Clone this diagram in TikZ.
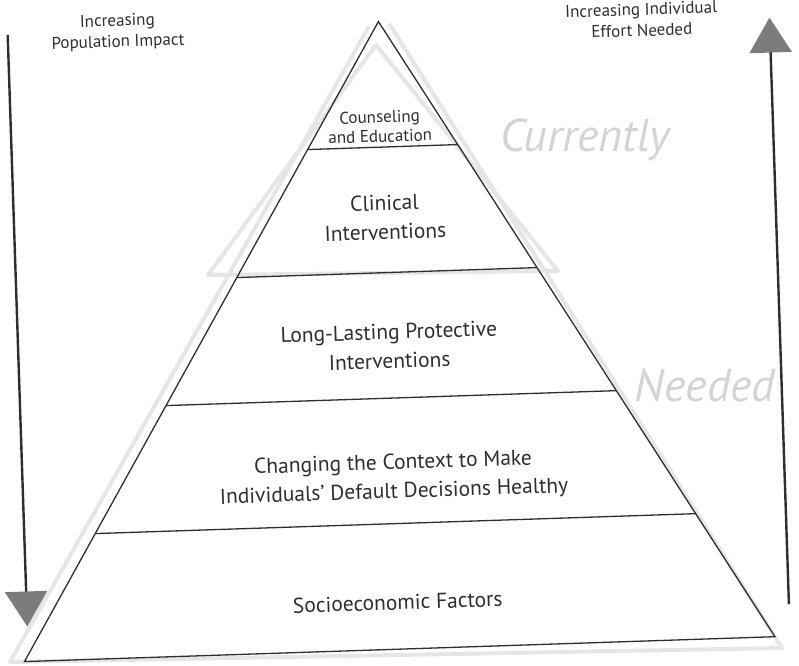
\documentclass[tikz,border=0pt]{standalone}
\usepackage{fontspec}
\setmainfont{PT Sans}
\usetikzlibrary{arrows.meta,calc}
\definecolor{inkgray}{HTML}{2E2E2E}
\definecolor{headgray}{HTML}{7C7C7C}
\definecolor{pencil}{HTML}{E6E6E6}

\begin{document}
\begin{tikzpicture}[x=1pt,y=-1pt,
  level/.style={draw=inkgray,line width=1.3pt},
  tier/.style={align=center,text=inkgray,transform shape,
    font=\fontsize{21.5}{29}\selectfont},
  side/.style={align=center,text=inkgray,transform shape,
    font=\fontsize{17}{21}\selectfont},
  effort/.style={draw=inkgray,line width=2.4pt,
    -{Triangle[width=42pt,length=35pt,fill=headgray,color=headgray]}},
  pencilline/.style={draw=pencil,line width=4pt,line cap=round,line join=round},
  scrawl/.style={text=pencil!92!black,font=\fontsize{46}{46}\selectfont\itshape}]
\useasboundingbox (0,0) rectangle (799,665);
% pencil marks on the page
\draw[pencilline] (368,28) -- (10,662) -- (782,648) -- (390,25);
\draw[pencilline] (376,45) -- (558,271) -- (208,275) -- cycle;
\node[scrawl] (nowtxt) at (585,140) {Currently};
\node[scrawl] (needtxt) at (705,385) {Needed};
% the printed figure, slightly skewed on the scan
\begin{scope}[rotate around={1.9:(400,340)}]
\coordinate (apex) at (389,21);
\coordinate (baseL) at (14,649);
\coordinate (baseR) at (765,649);
\draw[level] (baseL) -- (apex) -- (baseR) -- cycle;
\foreach \lv [count=\i] in {0.2,0.4,0.6,0.8}{
  \draw[level] ($(apex)!\lv!(baseL)$) coordinate (L\i)
    -- ($(apex)!\lv!(baseR)$) coordinate (R\i);
}
\node[tier,font=\fontsize{17}{19.5}\selectfont] (counsel) at (387,126) {Counseling\\and Education};
\node[tier] (clinical) at (389,217) {Clinical\\Interventions};
\node[tier] (protect) at (389,346) {Long-Lasting Protective\\Interventions};
\node[tier] (context) at (389,478) {Changing the Context to Make\\Individuals’ Default Decisions Healthy};
\node[tier] (socio) at (389,602) {Socioeconomic Factors};
% side arrows
\coordinate (popTop) at (18,22);
\coordinate (popEnd) at (18,614);
\draw[effort] (popTop) -- (popEnd);
\coordinate (effBot) at (780,617);
\coordinate (effTop) at (780,30);
\draw[effort] (effBot) -- (effTop);
\node[side] (popLbl) at (128,23) {Increasing\\Population Impact};
\node[side] (effLbl) at (652,28) {Increasing Individual\\Effort Needed};
\end{scope}
\end{tikzpicture}
\end{document}
